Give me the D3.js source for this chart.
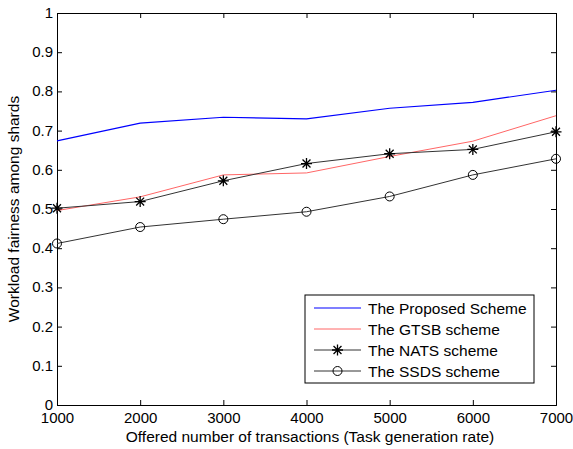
<!DOCTYPE html>
<html><head><meta charset="utf-8">
<script src="https://cdn.jsdelivr.net/npm/d3@7"></script>
<style>body{margin:0;background:#fff}svg{display:block}text{font-family:"Liberation Sans",Arial,sans-serif}</style>
</head><body>
<script>
const xValues = [1000, 2000, 3000, 4000, 5000, 6000, 7000];
const proposed = [0.674, 0.719, 0.734, 0.730, 0.757, 0.772, 0.803];
const gtsb = [0.496, 0.531, 0.587, 0.592, 0.634, 0.673, 0.738];
const nats = [0.502, 0.519, 0.572, 0.616, 0.641, 0.652, 0.697];
const ssds = [0.412, 0.454, 0.474, 0.493, 0.532, 0.587, 0.628];
const yTicks = [0, 0.1, 0.2, 0.3, 0.4, 0.5, 0.6, 0.7, 0.8, 0.9, 1];
const seriesNames = ["The Proposed Scheme", "The GTSB scheme", "The NATS scheme", "The SSDS scheme"];
const xLabel = "Offered number of transactions (Task generation rate)";
const yLabel = "Workload fairness among shards";

const W = 573, H = 449;
const L = 57, R = 556, T = 13, B = 405;
const svg = d3.select("body").append("svg").attr("width", W).attr("height", H);
const x = d3.scaleLinear().domain([1000, 7000]).range([L, R]);
const y = d3.scaleLinear().domain([0, 1]).range([B, T]);

const tickLen = 5;
const gx = svg.append("g").attr("transform", `translate(0,${B})`)
  .call(d3.axisBottom(x).tickValues(xValues).tickFormat(d3.format("d")).tickSize(-tickLen).tickPadding(7));
const gxTop = svg.append("g").attr("transform", `translate(0,${T})`)
  .call(d3.axisTop(x).tickValues(xValues).tickFormat("").tickSize(-tickLen));
const gy = svg.append("g").attr("transform", `translate(${L},0)`)
  .call(d3.axisLeft(y).tickValues(yTicks).tickFormat(d => d === 0 ? "0" : d === 1 ? "1" : d3.format(".1f")(d)).tickSize(-tickLen).tickPadding(4));
const gyR = svg.append("g").attr("transform", `translate(${R},0)`)
  .call(d3.axisRight(y).tickValues(yTicks).tickFormat("").tickSize(-tickLen));
[gx, gxTop, gy, gyR].forEach(g => {
  g.selectAll(".domain").attr("stroke", "#000").attr("stroke-width", 1);
  g.selectAll(".tick line").attr("stroke", "#000");
  g.selectAll("text").attr("fill", "#000").style("font-size", "15px");
});
gx.selectAll("text").attr("dy", "0.71em");
gy.selectAll("text").attr("dy", "0.3em");

const line = d3.line().x((d, i) => x(xValues[i])).y(d => y(d));
const series = [
  {vals: proposed, color: "#0000ff", marker: null, w: 1.2},
  {vals: gtsb, color: "#ff6666", marker: null, w: 1},
  {vals: nats, color: "#333333", marker: "star", w: 1},
  {vals: ssds, color: "#333333", marker: "circle", w: 1}
];

function drawMarker(g, type, cx, cy) {
  if (type === "star") {
    const s = 5.5;
    const p = `M${cx - s},${cy}L${cx + s},${cy}M${cx},${cy - s}L${cx},${cy + s}M${cx - s * 0.72},${cy - s * 0.72}L${cx + s * 0.72},${cy + s * 0.72}M${cx - s * 0.72},${cy + s * 0.72}L${cx + s * 0.72},${cy - s * 0.72}`;
    g.append("path").attr("d", p).attr("stroke", "#000").attr("stroke-width", 1.3).attr("fill", "none");
  } else if (type === "circle") {
    g.append("circle").attr("cx", cx).attr("cy", cy).attr("r", 4.5).attr("fill", "none").attr("stroke", "#000").attr("stroke-width", 1);
  }
}

const plot = svg.append("g");
series.forEach(s => {
  plot.append("path").datum(s.vals).attr("d", line).attr("fill", "none").attr("stroke", s.color).attr("stroke-width", s.w);
  if (s.marker) s.vals.forEach((v, i) => drawMarker(plot, s.marker, x(xValues[i]), y(v)));
});

const lg = svg.append("g");
lg.append("rect").attr("x", 305).attr("y", 295).attr("width", 229).attr("height", 88).attr("fill", "#fff").attr("stroke", "#000").attr("stroke-width", 1);
const rowsY = [308, 329, 350, 371];
series.forEach((s, i) => {
  const yy = rowsY[i];
  lg.append("line").attr("x1", 314).attr("x2", 361).attr("y1", yy).attr("y2", yy).attr("stroke", s.color).attr("stroke-width", s.w);
  if (s.marker) drawMarker(lg, s.marker, 337.5, yy);
  lg.append("text").attr("x", 368).attr("y", yy).attr("dy", "0.36em").style("font-size", "15.5px").attr("fill", "#000").text(seriesNames[i]);
});

svg.append("text").attr("x", 310).attr("y", 442).attr("text-anchor", "middle").style("font-size", "15.5px").attr("fill", "#000").text(xLabel);
svg.append("text").attr("transform", `translate(19,${(T + B) / 2}) rotate(-90)`).attr("text-anchor", "middle").style("font-size", "15.5px").attr("fill", "#000").text(yLabel);
</script>
</body></html>
